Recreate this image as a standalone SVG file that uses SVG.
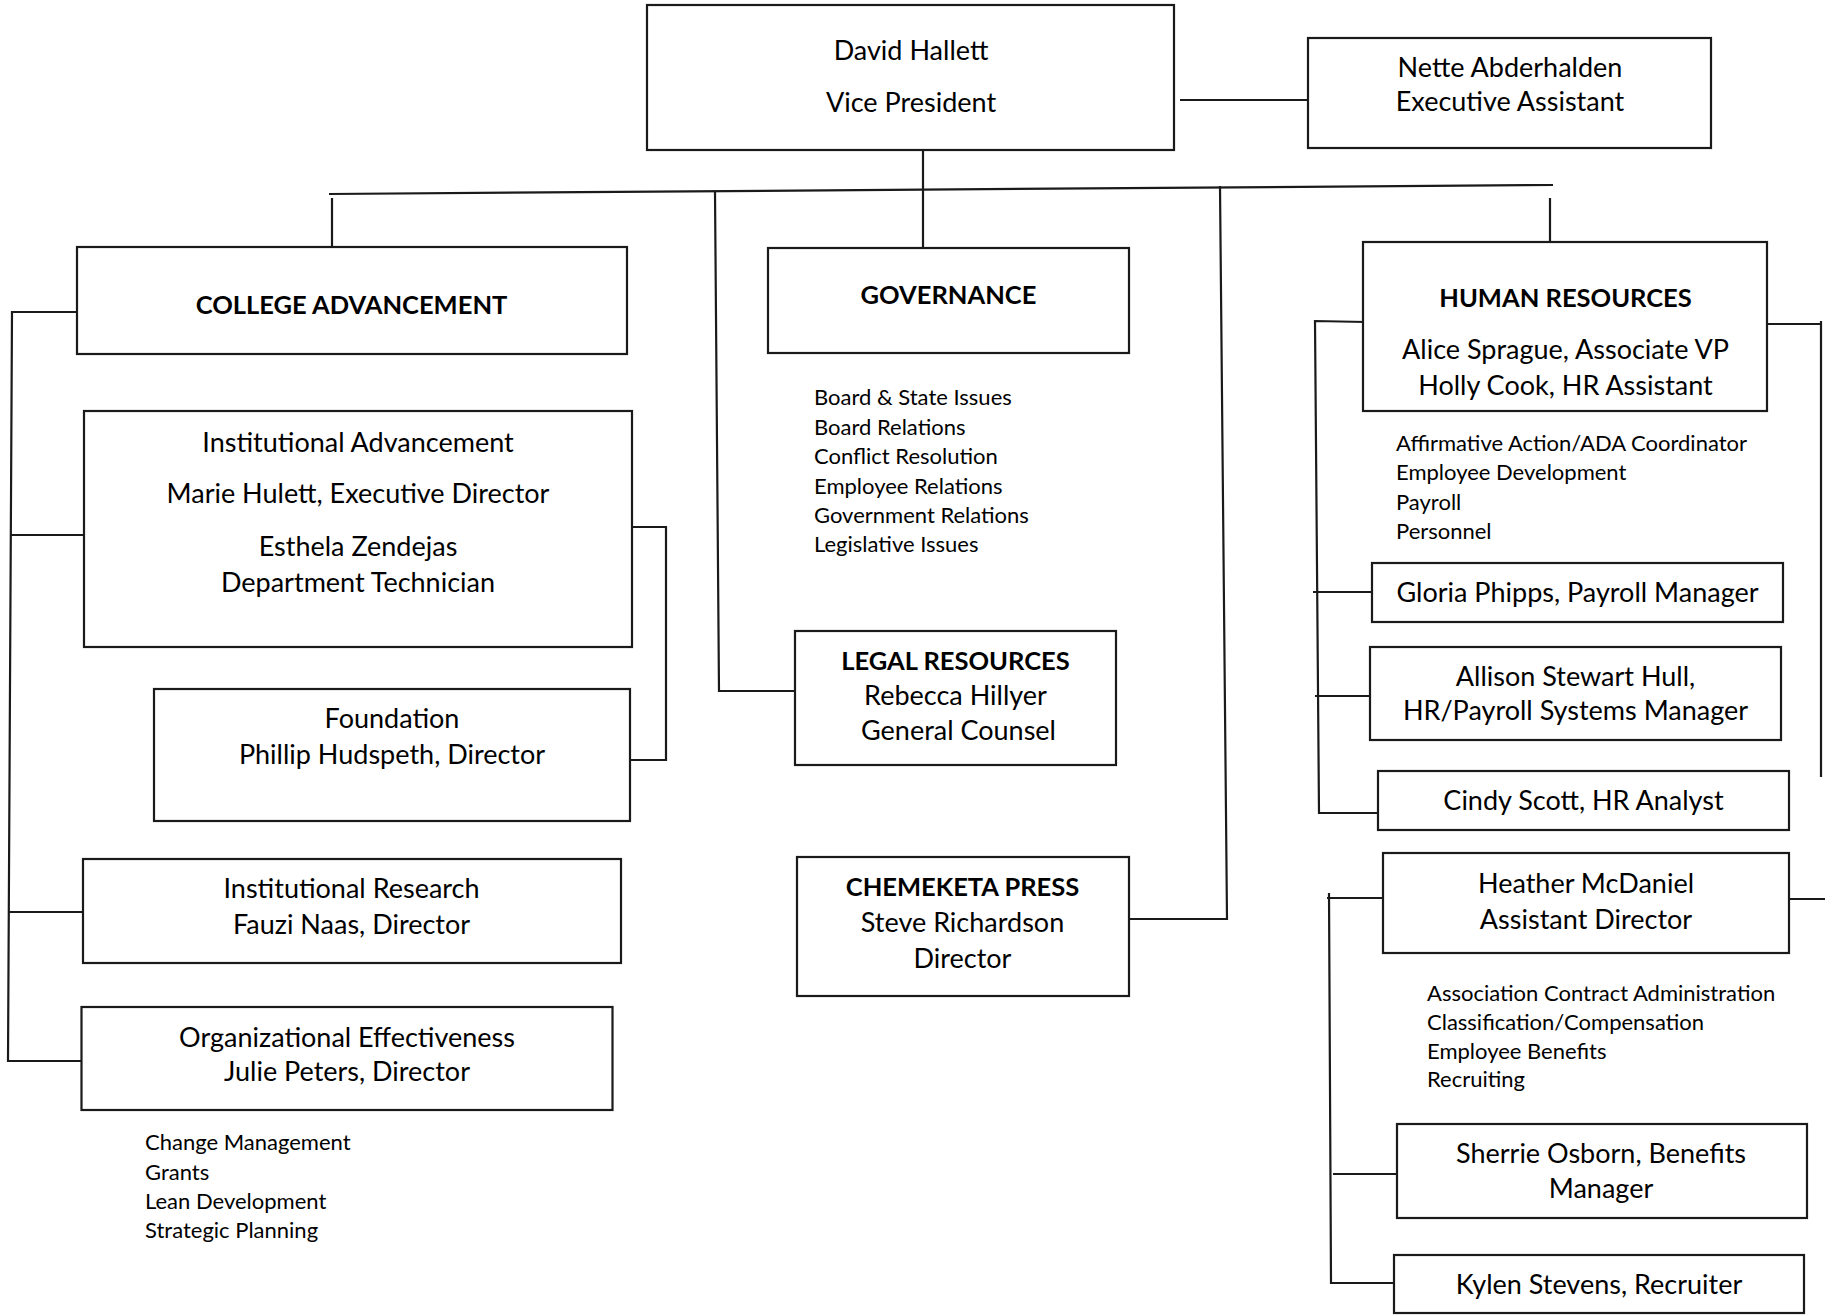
<svg xmlns="http://www.w3.org/2000/svg" width="1825" height="1315" viewBox="0 0 1825 1315">
<style>
  .box { fill: #ffffff; stroke: #1a1a1a; stroke-width: 2.2; }
  .conn { fill: none; stroke: #1a1a1a; stroke-width: 2.2; }
  text { font-family: Lato, "Open Sans", "Liberation Sans", sans-serif; fill: #000000; }
  .t { font-size: 27px; text-anchor: middle; }
  .h { font-size: 25.5px; font-weight: bold; text-anchor: middle; }
  .l { font-size: 22px; }
</style>
<rect width="1825" height="1315" fill="#ffffff"/>

<g id="connectors">
  <path class="conn" d="M1180 100 H1308"/>
  <path class="conn" d="M923 150 V248"/>
  <path class="conn" d="M329 194 L1553 185"/>
  <path class="conn" d="M332 198 V247"/>
  <path class="conn" d="M715 192 L719 691 H795"/>
  <path class="conn" d="M1220 186 L1227 919 H1129"/>
  <path class="conn" d="M1550 198 V242"/>
  <path class="conn" d="M77 312 H12 L8 1061 H81"/>
  <path class="conn" d="M10 535 H84"/>
  <path class="conn" d="M9 912 H83"/>
  <path class="conn" d="M632 527 H666 V760 H630"/>
  <path class="conn" d="M1366 322 L1315 321 L1319 813 H1378"/>
  <path class="conn" d="M1313 592 H1372"/>
  <path class="conn" d="M1315 696 H1370"/>
  <path class="conn" d="M1767 324 H1822"/>
  <path class="conn" d="M1821 321 V777"/>
  <path class="conn" d="M1789 899 H1825"/>
  <path class="conn" d="M1383 898 H1327"/>
  <path class="conn" d="M1329 893 L1331 1283 H1394"/>
  <path class="conn" d="M1333 1174 H1397"/>
</g>

<g id="vp">
  <rect class="box" x="647" y="5" width="527" height="145"/>
  <text class="t" x="911" y="60">David Hallett</text>
  <text class="t" x="911" y="112">Vice President</text>
</g>

<g id="exec-assistant">
  <rect class="box" x="1308" y="38" width="403" height="110"/>
  <text class="t" x="1510" y="77">Nette Abderhalden</text>
  <text class="t" x="1510" y="111">Executive Assistant</text>
</g>

<g id="college-advancement">
  <rect class="box" x="77" y="247" width="550" height="107"/>
  <text class="h" x="351.5" y="314">COLLEGE ADVANCEMENT</text>
</g>

<g id="institutional-advancement">
  <rect class="box" x="84" y="411" width="548" height="236"/>
  <text class="t" x="358" y="452">Institutional Advancement</text>
  <text class="t" x="358" y="503">Marie Hulett, Executive Director</text>
  <text class="t" x="358" y="556">Esthela Zendejas</text>
  <text class="t" x="358" y="592">Department Technician</text>
</g>

<g id="foundation">
  <rect class="box" x="154" y="689" width="476" height="132"/>
  <text class="t" x="392" y="728">Foundation</text>
  <text class="t" x="392" y="764">Phillip Hudspeth, Director</text>
</g>

<g id="institutional-research">
  <rect class="box" x="83" y="859" width="538" height="104"/>
  <text class="t" x="351.5" y="898">Institutional Research</text>
  <text class="t" x="351.5" y="934">Fauzi Naas, Director</text>
</g>

<g id="organizational-effectiveness">
  <rect class="box" x="81.5" y="1007" width="531" height="103"/>
  <text class="t" x="347" y="1047">Organizational Effectiveness</text>
  <text class="t" x="347" y="1081">Julie Peters, Director</text>
  <text class="l" x="145" y="1150">Change Management</text>
  <text class="l" x="145" y="1180">Grants</text>
  <text class="l" x="145" y="1209">Lean Development</text>
  <text class="l" x="145" y="1238">Strategic Planning</text>
</g>

<g id="governance">
  <rect class="box" x="768" y="248" width="361" height="105"/>
  <text class="h" x="948.5" y="304">GOVERNANCE</text>
  <text class="l" x="814" y="405">Board &amp; State Issues</text>
  <text class="l" x="814" y="434.5">Board Relations</text>
  <text class="l" x="814" y="464">Conflict Resolution</text>
  <text class="l" x="814" y="493.5">Employee Relations</text>
  <text class="l" x="814" y="522.5">Government Relations</text>
  <text class="l" x="814" y="552">Legislative Issues</text>
</g>

<g id="legal-resources">
  <rect class="box" x="795" y="631" width="321" height="134"/>
  <text class="h" x="955.5" y="670">LEGAL RESOURCES</text>
  <text class="t" x="955.5" y="705">Rebecca Hillyer</text>
  <text class="t" x="958.5" y="740">General Counsel</text>
</g>

<g id="chemeketa-press">
  <rect class="box" x="797" y="857" width="332" height="139"/>
  <text class="h" x="962.5" y="896">CHEMEKETA PRESS</text>
  <text class="t" x="962.5" y="932">Steve Richardson</text>
  <text class="t" x="962.5" y="968">Director</text>
</g>

<g id="human-resources">
  <rect class="box" x="1363" y="242" width="404" height="169"/>
  <text class="h" x="1565.5" y="307">HUMAN RESOURCES</text>
  <text class="t" x="1565.5" y="359">Alice Sprague, Associate VP</text>
  <text class="t" x="1565.5" y="395">Holly Cook, HR Assistant</text>
  <text class="l" x="1396" y="451">Affirmative Action/ADA Coordinator</text>
  <text class="l" x="1396" y="480">Employee Development</text>
  <text class="l" x="1396" y="509.5">Payroll</text>
  <text class="l" x="1396" y="539">Personnel</text>
</g>

<g id="payroll-manager">
  <rect class="box" x="1372" y="563" width="411" height="59"/>
  <text class="t" x="1577.5" y="602">Gloria Phipps, Payroll Manager</text>
</g>

<g id="systems-manager">
  <rect class="box" x="1370" y="647" width="411" height="93"/>
  <text class="t" x="1575.5" y="686">Allison Stewart Hull,</text>
  <text class="t" x="1575.5" y="720">HR/Payroll Systems Manager</text>
</g>

<g id="hr-analyst">
  <rect class="box" x="1378" y="771" width="411" height="59"/>
  <text class="t" x="1583.5" y="810">Cindy Scott, HR Analyst</text>
</g>

<g id="assistant-director">
  <rect class="box" x="1383" y="853" width="406" height="100"/>
  <text class="t" x="1586" y="893">Heather McDaniel</text>
  <text class="t" x="1586" y="929">Assistant Director</text>
  <text class="l" x="1427" y="1001">Association Contract Administration</text>
  <text class="l" x="1427" y="1030">Classification/Compensation</text>
  <text class="l" x="1427" y="1059">Employee Benefits</text>
  <text class="l" x="1427" y="1087">Recruiting</text>
</g>

<g id="benefits-manager">
  <rect class="box" x="1397" y="1124" width="410" height="94"/>
  <text class="t" x="1601" y="1163">Sherrie Osborn, Benefits</text>
  <text class="t" x="1601" y="1198">Manager</text>
</g>

<g id="recruiter">
  <rect class="box" x="1394" y="1255" width="410" height="58"/>
  <text class="t" x="1599" y="1294">Kylen Stevens, Recruiter</text>
</g>
</svg>
